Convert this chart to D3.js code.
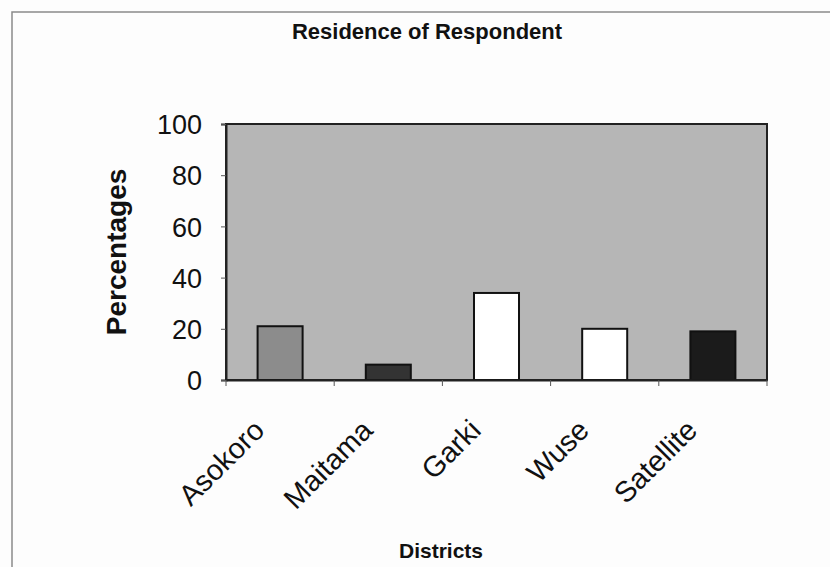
<!DOCTYPE html>
<html>
<head>
<meta charset="utf-8">
<script src="https://cdn.jsdelivr.net/npm/d3@7"></script>
<style>
  body { margin: 0; background: #fdfdfd; }
  text { font-family: "Liberation Sans", Arial, sans-serif; fill: #111; }
</style>
</head>
<body>
<svg id="chart"></svg>
<script>
// chart data
const districts = ["Asokoro", "Maitama", "Garki", "Wuse", "Satellite"];
const percentages = [21, 6, 34, 20, 19];
const barColors = ["#8c8c8c", "#333333", "#ffffff", "#ffffff", "#1b1b1b"];
const yTicks = [0, 20, 40, 60, 80, 100];

const width = 830, height = 567;
const margin = {top: 124, right: 63, bottom: 187, left: 226};
const innerW = width - margin.left - margin.right;
const innerH = height - margin.top - margin.bottom;

const svg = d3.select("#chart")
    .attr("width", width)
    .attr("height", height);

// outer chart frame (only top/left edges fall inside the picture)
svg.append("rect")
    .attr("x", 12).attr("y", 12)
    .attr("width", width + 20).attr("height", height)
    .attr("fill", "none")
    .attr("stroke", "#8a8a8a")
    .attr("stroke-width", 1.5);

const chart = svg.append("g")
    .attr("transform", `translate(${margin.left},${margin.top})`);

const x = d3.scaleBand()
    .domain(districts)
    .range([0, innerW])
    .paddingInner(0.584)
    .paddingOuter(0.292);

const y = d3.scaleLinear()
    .domain([0, 100])
    .range([innerH, 0]);

// plot area background
chart.append("rect")
    .attr("width", innerW)
    .attr("height", innerH)
    .attr("fill", "#b6b6b6")
    .attr("stroke", "#222")
    .attr("stroke-width", 2);

// bars
chart.selectAll(".bar")
    .data(districts)
    .enter()
  .append("rect")
    .attr("class", "bar")
    .attr("x", d => x(d))
    .attr("y", (d, i) => y(percentages[i]))
    .attr("width", x.bandwidth())
    .attr("height", (d, i) => innerH - y(percentages[i]))
    .attr("fill", (d, i) => barColors[i])
    .attr("stroke", "#111")
    .attr("stroke-width", 2);

// y axis
const yAxisG = chart.append("g")
    .call(d3.axisLeft(y).tickValues(yTicks).tickSize(5).tickPadding(19));
yAxisG.select(".domain").attr("stroke", "#222").attr("stroke-width", 2);
yAxisG.selectAll(".tick line").attr("stroke", "#555");
yAxisG.selectAll(".tick text")
    .style("font-size", "27px")
    .attr("dy", "0.36em");

// x axis: labels at band centres, tick marks at band boundaries
const xAxisG = chart.append("g")
    .attr("transform", `translate(0,${innerH})`)
    .call(d3.axisBottom(x).tickSize(0).tickPadding(0));
xAxisG.select(".domain").attr("stroke", "#222").attr("stroke-width", 2);
xAxisG.selectAll(".tick text")
    .style("font-size", "29px")
    .attr("text-anchor", "end")
    .attr("y", 0)
    .attr("dy", 0)
    .attr("transform", "translate(-14,52) rotate(-45)");

const step = x.step();
const boundaries = districts.map(d => x(d) + x.bandwidth() / 2 - step / 2)
    .concat([innerW]);
xAxisG.selectAll(".bound")
    .data(boundaries)
    .enter()
  .append("line")
    .attr("class", "bound")
    .attr("x1", d => d).attr("x2", d => d)
    .attr("y1", 0).attr("y2", 6)
    .attr("stroke", "#555");

// titles
svg.append("text")
    .attr("x", 427).attr("y", 39)
    .attr("text-anchor", "middle")
    .style("font-size", "22px")
    .style("font-weight", "bold")
    .text("Residence of Respondent");

svg.append("text")
    .attr("x", 441).attr("y", 558)
    .attr("text-anchor", "middle")
    .style("font-size", "21px")
    .style("font-weight", "bold")
    .text("Districts");

svg.append("text")
    .attr("transform", "translate(126,252) rotate(-90)")
    .attr("text-anchor", "middle")
    .style("font-size", "28px")
    .style("font-weight", "bold")
    .text("Percentages");
</script>
</body>
</html>
